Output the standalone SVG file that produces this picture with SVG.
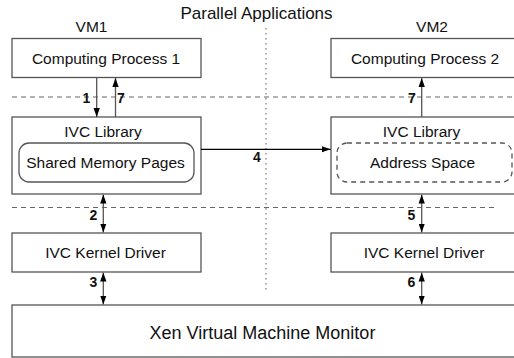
<svg xmlns="http://www.w3.org/2000/svg" width="514" height="358" viewBox="0 0 514 358">
<style>
.box{fill:#fff;stroke:#555;stroke-width:1.3}
.rbox{fill:none;stroke:#555;stroke-width:1.3}
.dbox{fill:none;stroke:#555;stroke-width:1.3;stroke-dasharray:5,4}
.t{font-family:"Liberation Sans",Arial,sans-serif;font-size:15.5px;fill:#111;text-anchor:middle}
.big{font-size:18px}
.ttl{font-size:17px}
.n{font-family:"Liberation Sans",Arial,sans-serif;font-size:14px;font-weight:bold;fill:#111;text-anchor:middle}
.ar{stroke:#555;stroke-width:1.3;fill:none}
.sep{stroke:#666;stroke-width:1.2;stroke-dasharray:5,4;fill:none}
.dot{stroke:#777;stroke-width:1.2;stroke-dasharray:1.5,3.5;fill:none}
</style>
<defs>
<marker id="ah" viewBox="0 0 10 10" refX="10" refY="5" markerWidth="9" markerHeight="9" markerUnits="userSpaceOnUse" orient="auto-start-reverse">
<path d="M0,1.5 L10,5 L0,8.5 Z" fill="#000"/>
</marker>
</defs>
<text class="t ttl" x="256.5" y="19">Parallel Applications</text>
<g id="separators">
<line class="sep" x1="12" y1="97" x2="514" y2="97"/>
<line class="sep" x1="12" y1="207.5" x2="497" y2="207.5"/>
<line class="dot" x1="266" y1="28" x2="266" y2="290"/>
</g>
<g id="vm1-label"><text class="t" x="91.5" y="32">VM1</text></g>
<g id="vm2-label"><text class="t" x="432" y="32">VM2</text></g>
<g id="cp1"><rect class="box" x="12" y="38.5" width="189" height="39"/><text class="t" x="106" y="63.5">Computing Process 1</text></g>
<g id="cp2"><rect class="box" x="331" y="38.5" width="200" height="39"/><text class="t" x="425" y="63.5">Computing Process 2</text></g>
<g id="ivc1"><rect class="box" x="12" y="117" width="189" height="77"/><text class="t" x="103" y="137">IVC Library</text>
<g id="smp"><rect class="rbox" x="19" y="143" width="175" height="39" rx="10"/><text class="t" x="105.5" y="168">Shared Memory Pages</text></g></g>
<g id="ivc2"><rect class="box" x="331" y="117" width="200" height="77"/><text class="t" x="421.5" y="137">IVC Library</text>
<g id="as"><rect class="dbox" x="337" y="143" width="175" height="39" rx="10"/><text class="t" x="422.5" y="168">Address Space</text></g></g>
<g id="kd1"><rect class="box" x="12" y="233" width="189" height="39"/><text class="t" x="105.5" y="258">IVC Kernel Driver</text></g>
<g id="kd2"><rect class="box" x="331" y="233" width="200" height="39"/><text class="t" x="424" y="258">IVC Kernel Driver</text></g>
<g id="xen"><rect class="box" x="12" y="305" width="520" height="52"/><text class="t big" x="262.5" y="339">Xen Virtual Machine Monitor</text></g>
<g id="connectors">
<line class="ar" x1="96.7" y1="78" x2="96.7" y2="117" marker-end="url(#ah)"/>
<line class="ar" x1="115.5" y1="117" x2="115.5" y2="78" marker-end="url(#ah)"/>
<line class="ar" x1="421.7" y1="117" x2="421.7" y2="78" marker-end="url(#ah)"/>
<line x1="201" y1="149.3" x2="330.5" y2="149.3" stroke="#000" stroke-width="1.2" marker-end="url(#ah)"/>
<line class="ar" x1="103.3" y1="194.5" x2="103.3" y2="232.5" marker-start="url(#ah)" marker-end="url(#ah)"/>
<line class="ar" x1="103.3" y1="272.5" x2="103.3" y2="304.5" marker-start="url(#ah)" marker-end="url(#ah)"/>
<line class="ar" x1="421.7" y1="194.5" x2="421.7" y2="232.5" marker-start="url(#ah)" marker-end="url(#ah)"/>
<line class="ar" x1="421.7" y1="272.5" x2="421.7" y2="304.5" marker-start="url(#ah)" marker-end="url(#ah)"/>
<text class="n" x="86.5" y="103">1</text>
<text class="n" x="121" y="103">7</text>
<text class="n" x="412" y="103">7</text>
<text class="n" x="257" y="161.5">4</text>
<text class="n" x="93.5" y="220">2</text>
<text class="n" x="93.5" y="286.5">3</text>
<text class="n" x="411.5" y="220">5</text>
<text class="n" x="411.5" y="286.5">6</text>
</g>
</svg>
